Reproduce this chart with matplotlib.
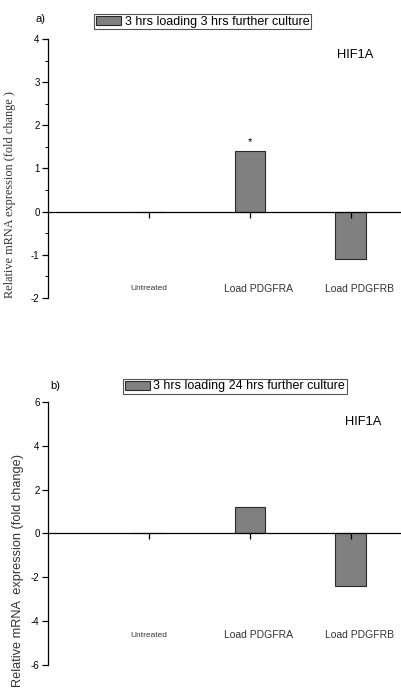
import matplotlib
matplotlib.use("Agg")
import matplotlib.pyplot as plt
from matplotlib.ticker import MultipleLocator

plt.rcParams['font.family'] = ['Liberation Sans', 'DejaVu Sans']
plt.rcParams['axes.unicode_minus'] = False

# data
categories = ["Untreated", "Load PDGFRA", "Load PDGFRB"]
values_3h = [0.0, 1.4, -1.1]
values_24h = [0.0, 1.2, -2.4]
legend_3h = "3 hrs loading 3 hrs further culture"
legend_24h = "3 hrs loading 24 hrs further culture"
gene = "HIF1A"
ylabel_a = "Relative mRNA expression (fold change )"
ylabel_b = "Relative mRNA  expression (fold change)"

BAR_COLOR = "#808080"

fig = plt.figure(figsize=(4.01, 6.96), dpi=100)


def draw_panel(rect, values, label, ylim, major, minor, label_y, gene_xy, legend_xy):
    """
    画一个面板
    """
    ax = fig.add_axes(rect)
    x = list(range(1, len(categories) + 1))
    ax.bar(x, values, width=0.3, color=BAR_COLOR, edgecolor="#2a2a2a",
           linewidth=0.8, label=label)
    ax.set_xlim(0, 3.5)
    ax.set_ylim(*ylim)

    # 坐标轴
    ax.spines['top'].set_visible(False)
    ax.spines['right'].set_visible(False)
    ax.spines['bottom'].set_position(('data', 0))
    ax.spines['left'].set_linewidth(0.9)
    ax.spines['bottom'].set_linewidth(0.9)
    ax.set_xticks(x)
    ax.set_xticklabels([])
    ax.tick_params(axis='x', direction='out', length=4, width=0.9)
    ax.yaxis.set_major_locator(MultipleLocator(major))
    if minor:
        ax.yaxis.set_minor_locator(MultipleLocator(minor))
        ax.tick_params(axis='y', which='minor', length=2, width=0.7)
    ax.tick_params(axis='y', which='major', length=4, width=0.9,
                   labelsize=7, pad=2)

    # 类别标签
    for i, name in enumerate(categories):
        off = 0.0 if i == 0 else 0.09
        size = 6 if i == 0 else 7.5
        ax.text(x[i] + off, label_y, name, ha='center', va='center',
                fontsize=size, color='#333333')

    ax.text(gene_xy[0], gene_xy[1], gene, ha='center', va='center', fontsize=9.3)

    leg = ax.legend(loc='center', bbox_to_anchor=legend_xy,
                    bbox_transform=fig.transFigure, fontsize=9,
                    fancybox=False, framealpha=1, edgecolor='#555555',
                    borderpad=0.15, handlelength=2.0, handleheight=0.75,
                    handletextpad=0.3, borderaxespad=0)
    leg.get_frame().set_linewidth(0.8)
    return ax


ax_a = draw_panel([0.1197, 0.572, 0.8803, 0.372], values_3h, legend_3h,
                  (-2, 4), 1, 0.5, -1.79, (3.05, 3.63), (0.506, 0.969))
ax_a.text(2, values_3h[1] + 0.22, "*", ha='center', va='center', fontsize=8)
fig.text(0.102, 0.973, "a)", ha='center', va='center', fontsize=8)
fig.text(0.025, 0.72, ylabel_a, rotation=90, ha='center', va='center',
         fontsize=8.8, family=['Liberation Serif'], color='#333333')

ax_b = draw_panel([0.1197, 0.0445, 0.8803, 0.378], values_24h, legend_24h,
                  (-6, 6), 2, None, -4.64, (3.13, 5.1), (0.586, 0.4447))
fig.text(0.137, 0.445, "b)", ha='center', va='center', fontsize=8)
fig.text(0.045, 0.18, ylabel_b, rotation=90, ha='center', va='center',
         fontsize=9.2, color='#333333')

fig.savefig("out.png", dpi=100)
